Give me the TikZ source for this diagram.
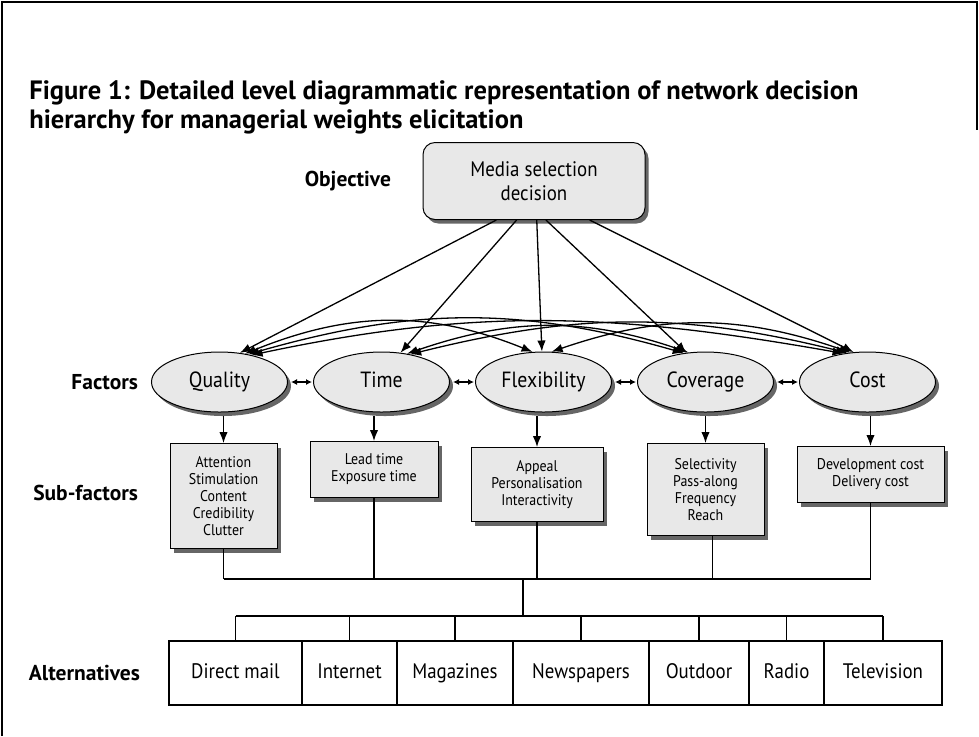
\documentclass[tikz,border=0pt]{standalone}
\usepackage{fontspec}
\setmainfont{PT Sans}[FakeStretch=0.9]
\newfontfamily\headfont{PT Sans}
\usetikzlibrary{positioning,shapes.geometric,arrows.meta}

\tikzset{
  shade/.style={preaction={fill=black!60,transform canvas={shift={(1.75pt,-2pt)}}}},
  objbox/.style={draw,line width=0.5pt,rounded corners=6pt,fill=black!9,shade,
    minimum width=111pt,minimum height=38.5pt,align=center,
    font=\fontsize{10.5}{12}\selectfont},
  factor/.style={ellipse,draw,line width=0.5pt,fill=black!9,shade,inner sep=0pt,
    minimum width=68pt,minimum height=30pt,text height=8pt,text depth=2.5pt,
    font=\fontsize{11}{13}\selectfont},
  subbox/.style={draw,line width=0.5pt,fill=black!9,shade,anchor=north,align=center,
    inner sep=0pt,font=\fontsize{7.75}{8.5}\selectfont},
  altbox/.style={draw,line width=0.75pt,inner sep=0pt,outer sep=0pt,
    minimum height=32pt,text height=7.6pt,text depth=2.4pt,
    font=\fontsize{10.5}{12}\selectfont},
  level/.style={anchor=east,font=\headfont\bfseries\fontsize{10.75}{13}\selectfont},
  arr/.style={line width=0.65pt,-{Latex[length=5.5pt,width=4.2pt]}},
  both/.style={line width=0.65pt,{Latex[length=5.5pt,width=4.2pt]}-{Latex[length=5.5pt,width=4.2pt]}},
  pair/.style={line width=0.65pt,{Latex[length=3pt,width=3pt]}-{Latex[length=3pt,width=3pt]},
    shorten <=1.5pt,shorten >=0.5pt},
  link/.style={line width=0.65pt},
}

\begin{document}
\begin{tikzpicture}[x=0.5pt,y=0.5pt]
\useasboundingbox (0,0) rectangle (979,-736);
% frame
\draw[line width=0.6pt] (2,-736) -- (2,-2) -- (977,-2) -- (977,-130);
\node[anchor=north west,inner sep=0pt,align=left,font=\headfont\bfseries\fontsize{13.25}{14.5}\selectfont] (head) at (29,-80)
  {Figure 1: Detailed level diagrammatic representation of network decision\\hierarchy for managerial weights elicitation};

% objective
\node[objbox] (obj) at (534,-181) {Media selection\\decision};
\node[level] (lobj) at (398,-181) {Objective};

% factors
\node[factor] (quality) at (219.5,-382) {Quality};
\node[factor,right=12.5pt of quality] (time) {Time};
\node[factor,right=12.5pt of time] (flex) {Flexibility};
\node[factor,right=12.5pt of flex] (cover) {Coverage};
\node[factor,right=12.5pt of cover] (cost) {Cost};
\node[level] (lfac) at (145,-382) {Factors};

\draw[arr] (obj.226) -- (quality.55);
\draw[arr] (obj.246) -- (time.57);
\draw[arr] (obj.274) -- (flex.93);
\draw[arr] (obj.287) -- (cover.123);
\draw[arr] (obj.325) -- (cost.115);

% network among factors
\draw[both] (quality.48) to[out=22,in=158] (flex.110);
\draw[both] (quality.44) to[out=16,in=164] (cover.127);
\draw[both] (quality.40) to[out=12,in=170] (cost.130);
\draw[both] (time.48) to[out=19,in=161] (cover.120);
\draw[both] (time.44) to[out=14,in=166] (cost.125);
\draw[both] (flex.75) to[out=19,in=161] (cost.120);
\foreach \a/\b in {quality/time,time/flex,flex/cover,cover/cost}
  \draw[pair] (\a.east) -- (\b.west);

% sub-factors
\node[subbox,minimum width=53.5pt,minimum height=52.5pt] (qsub) at (223.5,-443)
  {Attention\\Stimulation\\Content\\Credibility\\Clutter};
\node[subbox,minimum width=64pt,minimum height=28pt] (tsub) at (374,-441)
  {Lead time\\Exposure time};
\node[subbox,minimum width=66pt,minimum height=37pt] (fsub) at (537,-447)
  {Appeal\\Personalisation\\Interactivity};
\node[subbox,minimum width=58.5pt,minimum height=46pt] (csub) at (705.5,-443)
  {Selectivity\\Pass-along\\Frequency\\Reach};
\node[subbox,minimum width=73.5pt,minimum height=28pt] (costsub) at (870.5,-446)
  {Development cost\\Delivery cost};
\node[level] (lsub) at (145,-493) {Sub-factors};

\foreach \f/\s in {quality/qsub,time/tsub,flex/fsub,cover/csub,cost/costsub}
  \draw[arr,shorten <=1.5pt] (\s.north |- \f.south) -- (\s.north);

% alternatives
\node[altbox,minimum width=66.5pt] (dmail) at (235.5,-673) {Direct mail};
\node[altbox,minimum width=47.5pt,right=0pt of dmail] (inet) {Internet};
\node[altbox,minimum width=58pt,right=0pt of inet] (mags) {Magazines};
\node[altbox,minimum width=68pt,right=0pt of mags] (papers) {Newspapers};
\node[altbox,minimum width=50pt,right=0pt of papers] (outdoor) {Outdoor};
\node[altbox,minimum width=37.5pt,right=0pt of outdoor] (radio) {Radio};
\node[altbox,minimum width=59pt,right=0pt of radio] (tv) {Television};
\node[level] (lalt) at (147,-673) {Alternatives};

% links down to the alternatives
\coordinate (bus) at (523,-579);
\coordinate (altbus) at (523,-616);
\foreach \s in {qsub,tsub,fsub,costsub}
  \draw[link] (\s.south) -- (\s.south |- bus);
\draw[link] ([xshift=3.5pt]csub.south) -- ([xshift=3.5pt]csub.south |- bus);
\draw[link] (qsub.south |- bus) -- (costsub.south |- bus);
\draw[link] (bus) -- (altbus);
\draw[link] (dmail.north |- altbus) -- (tv.north |- altbus);
\foreach \a in {dmail,inet,mags,papers,outdoor,radio,tv}
  \draw[link] (\a.north |- altbus) -- (\a.north);
\end{tikzpicture}
\end{document}
